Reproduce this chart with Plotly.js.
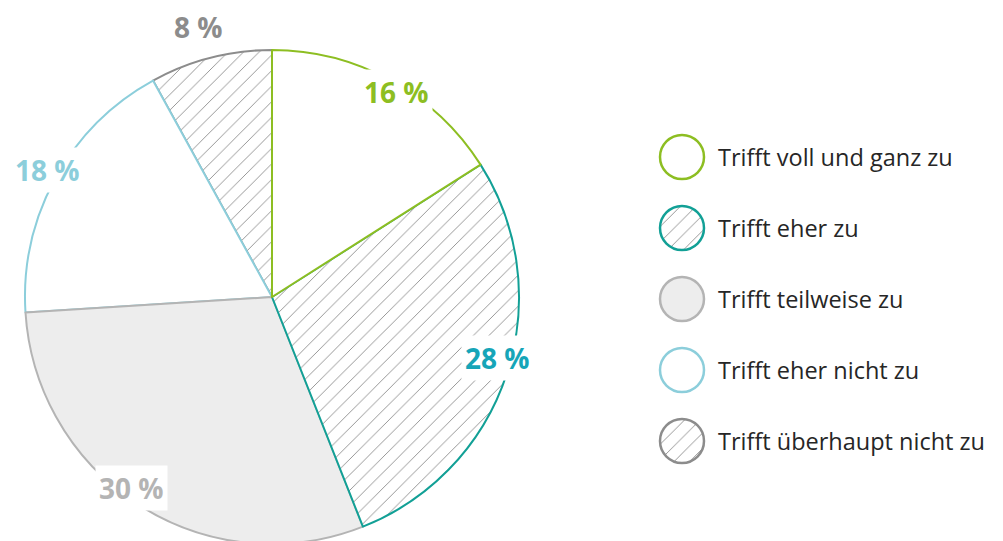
<!DOCTYPE html>
<html>
<head>
<meta charset="utf-8">
<script src="https://cdn.plot.ly/plotly-3.0.1.min.js"></script>
<style>
html,body{margin:0;padding:0;overflow:hidden;background:#fff;}
#chart{width:1003px;height:545px;}
</style>
</head>
<body>
<div id="chart"></div>
<script>
// ---- data ----
const categories = ["Trifft voll und ganz zu","Trifft eher zu","Trifft teilweise zu","Trifft eher nicht zu","Trifft überhaupt nicht zu"];
const values = [16, 28, 30, 18, 8];
const labelTexts = values.map(v => v + " %");

// ---- styles ----
const lineColors = ["#8DBE22","#12A096","#B4B4B4","#8CCEDB","#8C8C8C"];
const labelColors = ["#8DBE22","#16A5B8","#B4B4B4","#8CCEDB","#8C8C8C"];
const fillColors = ["#FFFFFF","#FFFFFF","#EDEDED","#FFFFFF","#FFFFFF"];
const patternShapes = ["","/","","","/"];

const W = 1003, H = 545;
const cx = 272, cy = 297, R = 247;

// draw in reverse order (counterclockwise) so that earlier slices' borders lie on top
const rev = a => a.slice().reverse();
const total = values.reduce((a, b) => a + b, 0);
const lastShare = values[values.length - 1] / total;

const traces = [];
traces.push({
  type: "pie",
  values: rev(values),
  labels: rev(categories),
  sort: false,
  direction: "counterclockwise",
  rotation: -360 * lastShare,
  textinfo: "none",
  hoverinfo: "none",
  showlegend: false,
  domain: {x: [(cx - R) / W, (cx + R) / W], y: [(H - cy - R) / H, (H - cy + R) / H]},
  marker: {
    colors: rev(fillColors),
    line: {color: rev(lineColors), width: 2},
    pattern: {shape: rev(patternShapes), fgcolor: "#8a8a8a", bgcolor: rev(fillColors), size: 11, solidity: 0.08}
  }
});

// legend: small circles drawn as single-slice pies
const legX = 682, legR = 22, legY0 = 157, legDy = 71;
const annotations = [];
categories.forEach((c, i) => {
  const yc = legY0 + i * legDy;
  traces.push({
    type: "pie",
    values: [1],
    labels: [c],
    sort: false,
    textinfo: "none",
    hoverinfo: "none",
    showlegend: false,
    domain: {x: [(legX - legR) / W, (legX + legR) / W], y: [(H - yc - legR) / H, (H - yc + legR) / H]},
    marker: {
      colors: [fillColors[i]],
      line: {color: lineColors[i], width: 2.5},
      pattern: {shape: patternShapes[i], fgcolor: "#8a8a8a", bgcolor: fillColors[i], size: 11, solidity: 0.08}
    }
  });
  annotations.push({
    xref: "paper", yref: "paper",
    x: 716 / W, y: (H - yc) / H,
    xanchor: "left", yanchor: "middle",
    text: c, showarrow: false,
    font: {family: "Open Sans, sans-serif", size: 23.5, color: "#262626"}
  });
});

// percentage labels
const labelPos = [[396, 92], [497, 358], [131, 488], [47, 170], [198, 27]];
values.forEach((v, i) => {
  annotations.push({
    xref: "paper", yref: "paper",
    x: labelPos[i][0] / W, y: (H - labelPos[i][1]) / H,
    xanchor: "center", yanchor: "middle",
    text: "<b>" + labelTexts[i] + "</b>", showarrow: false,
    bgcolor: "#FFFFFF", borderpad: 3,
    font: {family: "Open Sans, sans-serif", size: 28, color: labelColors[i]}
  });
});

const layout = {
  width: W, height: H,
  margin: {l: 0, r: 0, t: 0, b: 0},
  paper_bgcolor: "#FFFFFF",
  plot_bgcolor: "#FFFFFF",
  showlegend: false,
  annotations: annotations
};

Plotly.newPlot("chart", traces, layout, {displayModeBar: false, staticPlot: true});
</script>
</body>
</html>
